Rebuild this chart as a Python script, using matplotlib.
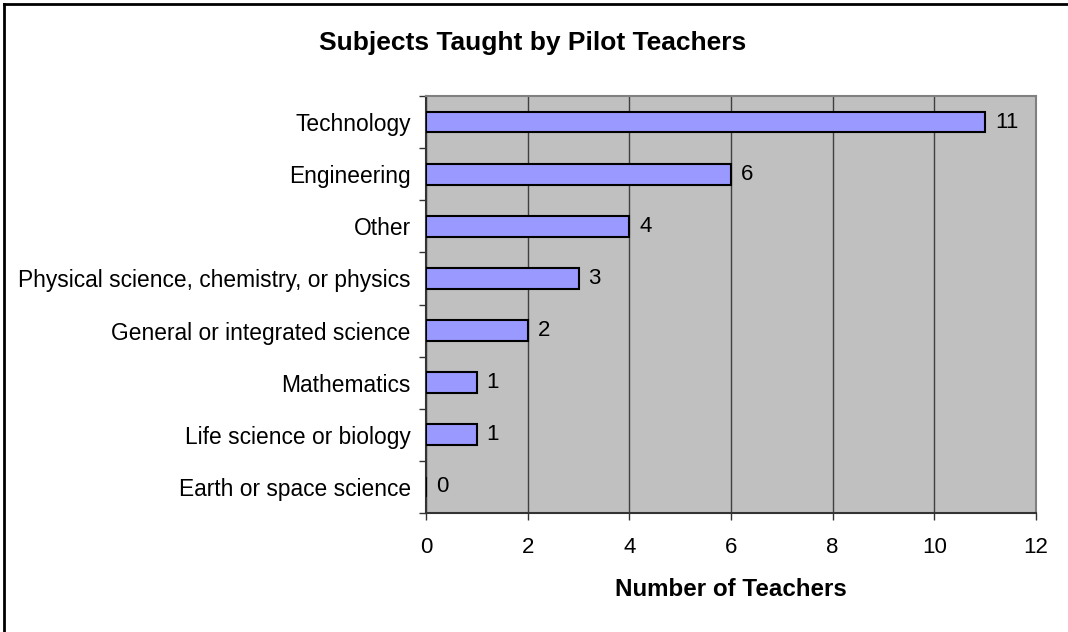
import matplotlib.pyplot as plt
from matplotlib.lines import Line2D
import numpy as np

plt.rcParams['font.family'] = ['Liberation Sans', 'DejaVu Sans']

# data, bottom to top as drawn
subjects = ['Earth or space science', 'Life science or biology', 'Mathematics',
            'General or integrated science', 'Physical science, chemistry, or physics',
            'Other', 'Engineering', 'Technology']
teachers = [0, 1, 1, 2, 3, 4, 6, 11]
x_ticks = [0, 2, 4, 6, 8, 10, 12]

fig = plt.figure(figsize=(10.68, 6.32), dpi=100, facecolor='white')
ax = fig.add_axes([426 / 1068, 1 - 513 / 632, 610 / 1068, 417 / 632])
ax.set_facecolor('#C0C0C0')

y = np.arange(len(subjects))
ax.barh(y, teachers, height=0.4, color='#9999FF', edgecolor='black', linewidth=1.5, zorder=3)

for yi, v in zip(y, teachers):
    ax.annotate(str(v), (v, yi), xytext=(7, 0), textcoords='offset points',
                va='center', ha='left', fontsize=16, color='black')

ax.set_xlim(0, 12)
ax.set_ylim(-0.5, len(subjects) - 0.5)
ax.set_xticks(x_ticks)
ax.set_yticks(y)
ax.set_yticklabels(subjects)
ax.set_yticks(np.arange(-0.5, len(subjects)), minor=True)
ax.tick_params(axis='y', which='major', length=0, pad=11, labelsize=16.4)
ax.tick_params(axis='y', which='minor', length=5, width=1, color='#333333', direction='out')
ax.tick_params(axis='x', length=5, width=1, color='#333333', direction='out', pad=12, labelsize=16)

ax.grid(axis='x', color='#404040', linewidth=1, zorder=1)
ax.set_axisbelow(True)
for side in ['left', 'bottom']:
    ax.spines[side].set_color('#333333')
    ax.spines[side].set_linewidth(1.5)
for side in ['top', 'right']:
    ax.spines[side].set_color('#808080')
    ax.spines[side].set_linewidth(1.5)

ax.set_xlabel('Number of Teachers', fontsize=17.4, fontweight='bold', labelpad=15)
fig.text(533 / 1068, 1 - 43 / 632, 'Subjects Taught by Pilot Teachers',
         ha='center', va='center', fontsize=19, fontweight='bold')

# chart frame (only left and top edges show)
fig.add_artist(Line2D([3.5 / 1068, 3.5 / 1068], [0, 1 - 4 / 632], color='black', linewidth=2))
fig.add_artist(Line2D([3.5 / 1068, 1], [1 - 4 / 632, 1 - 4 / 632], color='black', linewidth=2))

fig.savefig('out.png', dpi=100, facecolor='white')
